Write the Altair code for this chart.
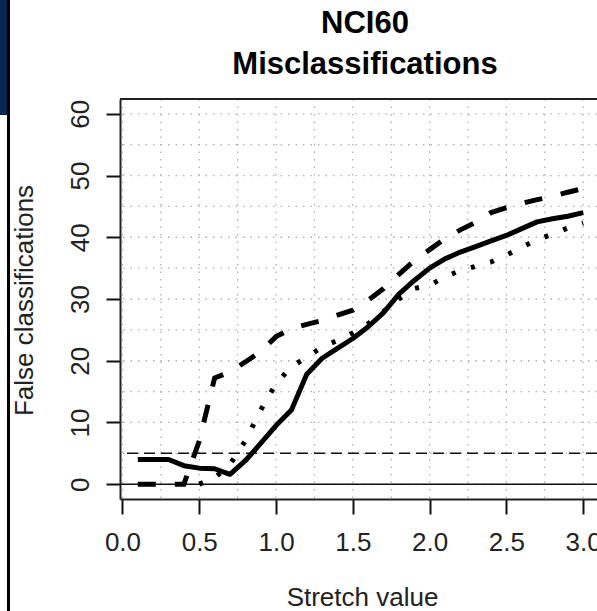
import altair as alt
import pandas as pd

# ---------------- data ----------------
stretch = [0.1, 0.2, 0.3, 0.4, 0.5, 0.6, 0.7, 0.8, 0.9, 1.0,
           1.1, 1.2, 1.3, 1.4, 1.5, 1.6, 1.7, 1.8, 1.9, 2.0,
           2.1, 2.2, 2.3, 2.4, 2.5, 2.6, 2.7, 2.8, 2.9, 3.0]
solid_vals = [4.0, 4.0, 4.0, 3.0, 2.6, 2.5, 1.6, 3.8, 6.6, 9.5,
              12.0, 17.8, 20.4, 22.0, 23.6, 25.5, 27.8, 30.8, 33.0, 35.0,
              36.5, 37.6, 38.5, 39.4, 40.3, 41.4, 42.5, 43.0, 43.4, 44.0]
dashed_vals = [0.0, 0.0, 0.0, 0.0, 7.0, 17.2, 18.2, 19.8, 21.5, 23.9,
               25.2, 25.9, 26.5, 27.4, 28.2, 29.8, 31.7, 34.0, 36.2, 38.0,
               39.8, 41.2, 42.4, 44.0, 44.8, 45.5, 46.1, 46.6, 47.3, 47.9]
dotted_vals = [None, None, None, None, 0.0, 1.0, 3.2, 7.0, 12.0, 16.3,
               19.0, 20.6, 22.2, 23.3, 24.5, 26.0, 28.0, 30.0, 31.7, 32.2,
               33.6, 34.6, 35.3, 36.0, 37.1, 38.4, 39.6, 40.5, 41.5, 42.3]

x_ticks = [0.0, 0.5, 1.0, 1.5, 2.0, 2.5, 3.0]
y_ticks = [0, 10, 20, 30, 40, 50, 60]
grid_x = [0.0, 0.25, 0.5, 0.75, 1.0, 1.25, 1.5, 1.75, 2.0, 2.25, 2.5, 2.75, 3.0]
grid_y = [0, 5, 10, 15, 20, 25, 30, 35, 40, 45, 50, 55, 60]
ref_solid = [0]
ref_dashed = [5]
title_lines = ["NCI60", "Misclassifications"]

# ---------------- tables ----------------
df_solid = pd.DataFrame({"x": stretch, "y": solid_vals})
df_dashed = pd.DataFrame({"x": stretch, "y": dashed_vals})
df_dotted = pd.DataFrame({"x": stretch, "y": dotted_vals}).dropna()
df_gx = pd.DataFrame({"x": grid_x})
df_gy = pd.DataFrame({"y": grid_y})
df_r0 = pd.DataFrame({"y": ref_solid})
df_r5 = pd.DataFrame({"y": ref_dashed})

TICK_FONT = "Liberation Sans, Arial, sans-serif"
TITLE_FONT = "Liberation Sans, Arial, sans-serif"

x_scale = alt.Scale(domain=[-0.016, 3.116], range=[0, 481], zero=False, nice=False)
y_scale = alt.Scale(domain=[-2.4, 62.4], zero=False, nice=False)

x_axis = alt.Axis(
    values=x_ticks, format=".1f", grid=False,
    tickSize=15, tickWidth=2, tickColor="#111",
    domain=True, domainWidth=2, domainColor="#222",
    labelFont=TICK_FONT, labelFontSize=26, labelColor="#222",
    labelPadding=15, labelFlush=False, labelOverlap=False,
    title="Stretch value", titleFont=TITLE_FONT, titleFontSize=26,
    titleFontWeight="normal", titleColor="#222",
    titleX=242, titleY=106, titleAlign="center", titleBaseline="alphabetic",
)
y_axis = alt.Axis(
    values=y_ticks, format="d", grid=False,
    tickSize=14, tickWidth=2, tickColor="#111",
    domain=True, domainWidth=2, domainColor="#222",
    labelFont=TICK_FONT, labelFontSize=26, labelColor="#222",
    labelAngle=270, labelAlign="center", labelBaseline="alphabetic",
    labelPadding=18, labelFlush=False, labelOverlap=False,
    title="False classifications", titleFont=TITLE_FONT, titleFontSize=26,
    titleFontWeight="normal", titleColor="#222",
    titleAngle=270, titleX=-88, titleY=201, titleAlign="center",
    titleBaseline="alphabetic",
)


def X(field="x"):
    return alt.X(f"{field}:Q", scale=x_scale, axis=x_axis)


def Y(field="y"):
    return alt.Y(f"{field}:Q", scale=y_scale, axis=y_axis)


grid_v = alt.Chart(df_gx).mark_rule(
    color="#b0b0b0", strokeWidth=1.3, strokeDash=[1.5, 6]
).encode(x=X())
grid_h = alt.Chart(df_gy).mark_rule(
    color="#b0b0b0", strokeWidth=1.3, strokeDash=[1.5, 6]
).encode(y=Y())

ref0 = alt.Chart(df_r0).mark_rule(color="#111", strokeWidth=1.5).encode(y=Y())
ref5 = alt.Chart(df_r5).mark_rule(
    color="#111", strokeWidth=1.5, strokeDash=[11, 6]
).encode(y=Y())

line_solid = alt.Chart(df_solid).mark_line(
    color="black", strokeWidth=5, strokeJoin="round"
).encode(x=X(), y=Y())
line_dashed = alt.Chart(df_dashed).mark_line(
    color="black", strokeWidth=5, strokeDash=[18, 19]
).encode(x=X(), y=Y())
line_dotted = alt.Chart(df_dotted).mark_line(
    color="black", strokeWidth=5, strokeDash=[4, 16]
).encode(x=X(), y=Y())

# frame top line of the plot box
top_line = alt.Chart(df_r0).mark_rule(color="#222", strokeWidth=2).encode(
    x=alt.value(0), x2=alt.value(481), y=alt.value(0)
)

# two-line bold title
title_style = dict(font=TITLE_FONT, fontSize=31, fontWeight="bold",
                   color="black", align="center", baseline="alphabetic")
title1 = alt.Chart(df_r0).mark_text(**title_style).encode(
    x=alt.value(245), y=alt.value(-66), text=alt.value(title_lines[0])
)
title2 = alt.Chart(df_r0).mark_text(**title_style).encode(
    x=alt.value(245), y=alt.value(-25), text=alt.value(title_lines[1])
)

# slide decorations at the far left
navy_block = alt.Chart(df_r0).mark_rect(color="#062650").encode(
    x=alt.value(-120), x2=alt.value(-113), y=alt.value(-99), y2=alt.value(16)
)
black_bar = alt.Chart(df_r0).mark_rect(color="#000000").encode(
    x=alt.value(-113), x2=alt.value(-110), y=alt.value(-99), y2=alt.value(512)
)

chart = alt.layer(
    grid_v, grid_h, ref5, ref0, line_dotted, line_dashed, line_solid,
    top_line, title1, title2, navy_block, black_bar,
).properties(
    width=477,
    height=400,
    autosize=alt.AutoSizeParams(type="none"),
    padding={"left": 120, "top": 99, "right": 0, "bottom": 112},
).configure_view(stroke=None).configure(background="white")

chart.save("out.html", embed_options={"renderer": "svg", "actions": False})
